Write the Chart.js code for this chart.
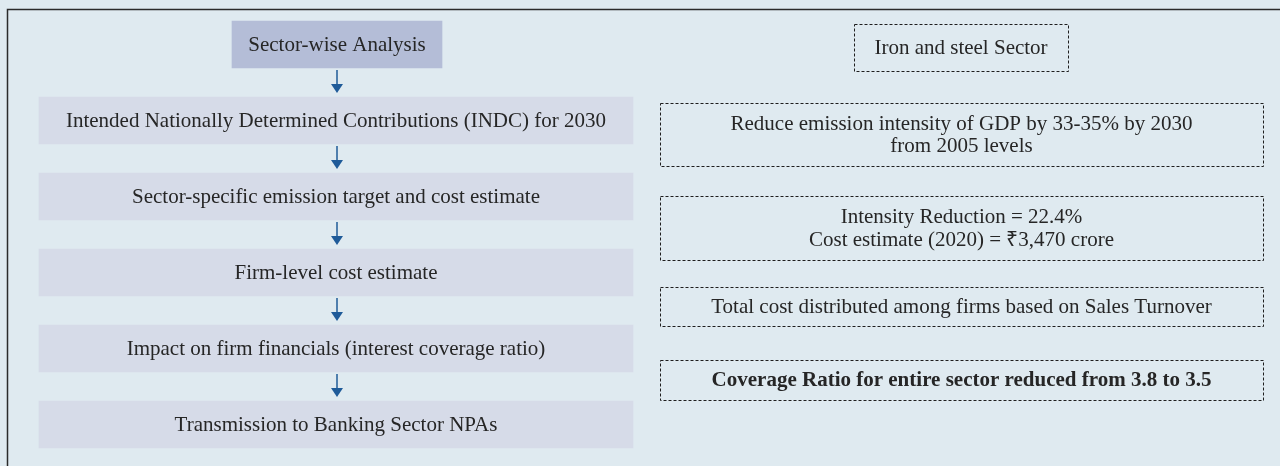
<!DOCTYPE html>
<html lang="en">
<head>
    <meta charset="UTF-8">
    <title>Sector-wise Analysis - Iron and steel Sector</title>
    <style>
        body { margin: 0; background: #dfeaf0; }
        #chart-container { width: 1280px; height: 466px; }
    </style>
    <script src="https://cdn.jsdelivr.net/npm/chart.js"></script>
</head>
<body>
    <div id="chart-container">
        <canvas id="flowChart" width="1280" height="466"></canvas>
    </div>

    <script>
        // Flow steps (left column) and notes for the iron and steel sector (right column)
        const leftSteps = [
            'Sector-wise Analysis',
            'Intended Nationally Determined Contributions (INDC) for 2030',
            'Sector-specific emission target and cost estimate',
            'Firm-level cost estimate',
            'Impact on firm financials (interest coverage ratio)',
            'Transmission to Banking Sector NPAs'
        ];
        const rightNotes = [
            ['Iron and steel Sector'],
            ['Reduce emission intensity of GDP by 33-35% by 2030', 'from 2005 levels'],
            ['Intensity Reduction = 22.4%', 'Cost estimate (2020) = ₹3,470 crore'],
            ['Total cost distributed among firms based on Sales Turnover'],
            ['Coverage Ratio for entire sector reduced from 3.8 to 3.5']
        ];
        const boldNotes = [false, false, false, false, true];

        // layout (canvas px)
        const HEAD_X = [232, 442];
        const STEP_X = [39, 633];
        const NOTE_X = [660, 1263];
        const NOTE_HEAD_X = [854, 1068];
        const NOTE_Y = [[24, 71], [103, 166], [196, 260], [287, 326], [360, 400]];
        const FONT = '"Liberation Serif", "Times New Roman", serif';

        const flowPlugin = {
            id: 'flow',
            beforeDraw(chart) {
                const ctx = chart.ctx;
                ctx.save();
                ctx.fillStyle = '#dfeaf0';
                ctx.fillRect(0, 0, chart.width, chart.height);
                ctx.restore();
            },
            afterDatasetsDraw(chart) {
                const ctx = chart.ctx;
                const bars = chart.getDatasetMeta(0).data;
                ctx.save();

                // step labels
                ctx.fillStyle = '#262626';
                ctx.textAlign = 'center';
                ctx.textBaseline = 'middle';
                ctx.font = '21px ' + FONT;
                bars.forEach((bar, i) => {
                    const cx = (bar.x + bar.base) / 2;
                    ctx.fillText(leftSteps[i], cx, bar.y + 1);
                });

                // arrows between steps
                ctx.strokeStyle = '#1f5b99';
                ctx.fillStyle = '#1f5b99';
                ctx.lineWidth = 1.5;
                for (let i = 0; i < bars.length - 1; i++) {
                    const cx = 337;
                    const y0 = bars[i].y + bars[i].height / 2 + 2;
                    const y1 = bars[i + 1].y - bars[i + 1].height / 2 - 4;
                    ctx.beginPath();
                    ctx.moveTo(cx, y0);
                    ctx.lineTo(cx, y1 - 8);
                    ctx.stroke();
                    ctx.beginPath();
                    ctx.moveTo(cx - 6, y1 - 9);
                    ctx.lineTo(cx + 6, y1 - 9);
                    ctx.lineTo(cx, y1);
                    ctx.closePath();
                    ctx.fill();
                }

                // dashed note boxes
                rightNotes.forEach((lines, i) => {
                    const xr = i === 0 ? NOTE_HEAD_X : NOTE_X;
                    const [top, bottom] = NOTE_Y[i];
                    ctx.setLineDash([3, 2]);
                    ctx.strokeStyle = '#1e1e1e';
                    ctx.lineWidth = 1;
                    ctx.strokeRect(xr[0] + 0.5, top + 0.5, xr[1] - xr[0], bottom - top);
                    ctx.setLineDash([]);
                    ctx.fillStyle = '#262626';
                    ctx.font = (boldNotes[i] ? 'bold ' : '') + '21px ' + FONT;
                    const cx = (xr[0] + xr[1]) / 2;
                    const cy = (top + bottom) / 2 + 1;
                    const lh = 22.5;
                    lines.forEach((t, j) => {
                        ctx.fillText(t, cx, cy + (j - (lines.length - 1) / 2) * lh);
                    });
                });

                // outer frame
                ctx.strokeStyle = '#2b2b2b';
                ctx.lineWidth = 1.5;
                ctx.strokeRect(7.5, 9.5, chart.width + 20, chart.height + 20);
                ctx.restore();
            }
        };

        const ctx = document.getElementById('flowChart').getContext('2d');
        new Chart(ctx, {
            type: 'bar',
            data: {
                labels: leftSteps,
                datasets: [{
                    data: leftSteps.map((s, i) => i === 0 ? [HEAD_X[0], HEAD_X[1]] : [STEP_X[0], STEP_X[1]]),
                    backgroundColor: leftSteps.map((s, i) => i === 0 ? '#b4bdd7' : '#d6dbe8'),
                    borderWidth: 0,
                    barThickness: 47
                }]
            },
            options: {
                indexAxis: 'y',
                responsive: false,
                animation: false,
                layout: { padding: { top: 6.5, bottom: 3.5, left: 0, right: 0 } },
                plugins: { legend: { display: false }, tooltip: { enabled: false } },
                scales: {
                    x: { type: 'linear', min: 0, max: 1280, display: false },
                    y: { display: false }
                }
            },
            plugins: [flowPlugin]
        });
    </script>
</body>
</html>
